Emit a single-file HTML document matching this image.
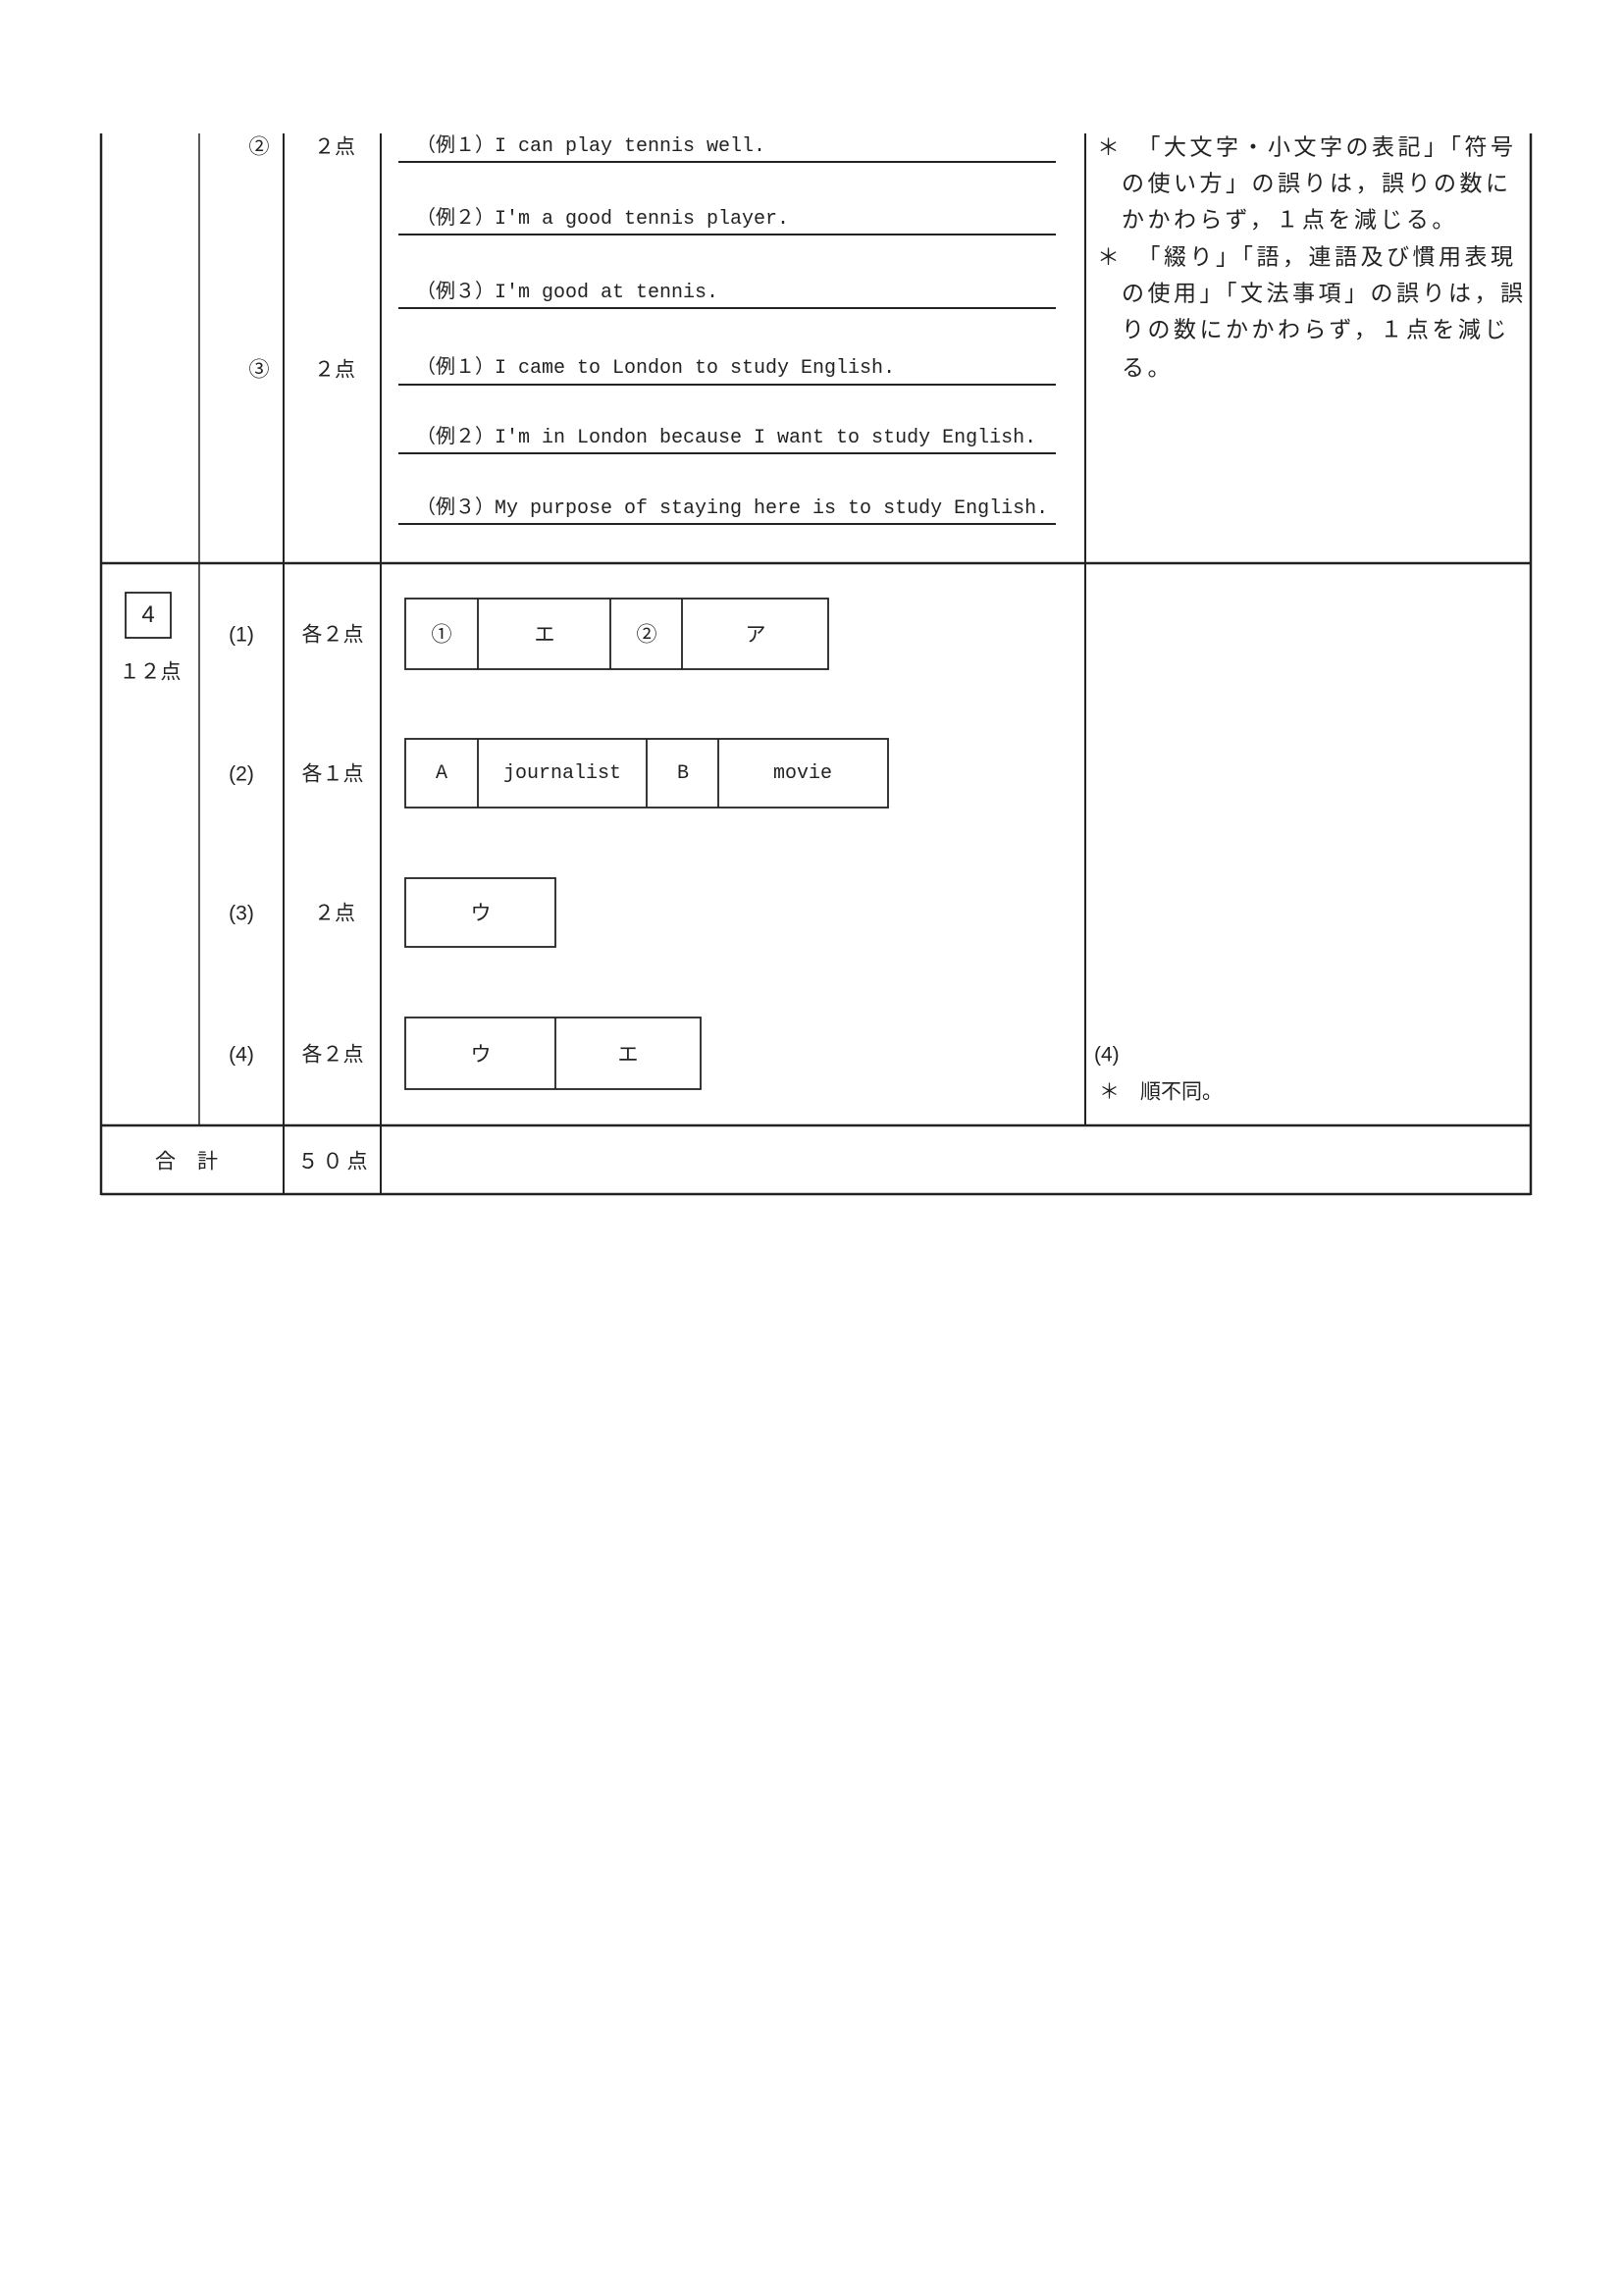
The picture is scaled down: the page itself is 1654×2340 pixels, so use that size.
<!DOCTYPE html>
<html><head><meta charset="utf-8"><style>
html,body{margin:0;padding:0;background:#fff;}
body{width:1654px;height:2340px;position:relative;overflow:hidden;}
.t{position:absolute;white-space:nowrap;color:#222;line-height:1;}
.m{font-family:"Liberation Mono","Noto Sans CJK JP",monospace;font-size:20px;}
.j{font-family:"Liberation Sans","Noto Sans CJK JP",sans-serif;font-size:21px;}
.n{font-family:"Noto Sans CJK JP",sans-serif;font-size:23px;letter-spacing:3.5px;}
.c{text-align:center;transform:translate(-50%,-50%);}
.l{transform:translateY(-50%);}
</style></head><body>
<svg width="1654" height="2340" style="position:absolute;left:0;top:0">
<g stroke="#222" fill="none">
<line x1="103" y1="136" x2="103" y2="1218" stroke-width="2.5"/>
<line x1="203" y1="136" x2="203" y2="1147" stroke-width="1.5"/>
<line x1="289" y1="136" x2="289" y2="1218" stroke-width="2"/>
<line x1="388" y1="136" x2="388" y2="1218" stroke-width="2"/>
<line x1="1106" y1="136" x2="1106" y2="1147" stroke-width="2"/>
<line x1="1560" y1="136" x2="1560" y2="1218" stroke-width="2.5"/>
<line x1="103" y1="574" x2="1560" y2="574" stroke-width="2.5"/>
<line x1="103" y1="1147" x2="1560" y2="1147" stroke-width="2.5"/>
<line x1="103" y1="1217" x2="1560" y2="1217" stroke-width="2.5"/>
<g stroke-width="2">
<line x1="406" y1="165" x2="1076" y2="165"/>
<line x1="406" y1="239" x2="1076" y2="239"/>
<line x1="406" y1="314" x2="1076" y2="314"/>
<line x1="406" y1="392" x2="1076" y2="392"/>
<line x1="406" y1="462" x2="1076" y2="462"/>
<line x1="406" y1="534" x2="1076" y2="534"/>
</g>
<g stroke-width="1.8">
<rect x="128" y="604" width="46" height="46"/>
<rect x="413" y="610" width="431" height="72"/>
<line x1="487" y1="610" x2="487" y2="682"/><line x1="622" y1="610" x2="622" y2="682"/><line x1="695" y1="610" x2="695" y2="682"/>
<rect x="413" y="753" width="492" height="70"/>
<line x1="487" y1="753" x2="487" y2="823"/><line x1="659" y1="753" x2="659" y2="823"/><line x1="732" y1="753" x2="732" y2="823"/>
<rect x="413" y="895" width="153" height="70"/>
<rect x="413" y="1037" width="301" height="73"/>
<line x1="566" y1="1037" x2="566" y2="1110"/>
</g>
</g></svg>

<div class="t j c" style="left:264px;top:150px">②</div>
<div class="t j c" style="left:341px;top:150px">２点</div>
<div class="t j c" style="left:264px;top:377px">③</div>
<div class="t j c" style="left:341px;top:377px">２点</div>

<div class="t m l" style="left:424px;top:150px">（例１）I can play tennis well.</div>
<div class="t m l" style="left:424px;top:224px">（例２）I'm a good tennis player.</div>
<div class="t m l" style="left:424px;top:299px">（例３）I'm good at tennis.</div>
<div class="t m l" style="left:424px;top:376px">（例１）I came to London to study English.</div>
<div class="t m l" style="left:424px;top:447px">（例２）I'm in London because I want to study English.</div>
<div class="t m l" style="left:424px;top:519px">（例３）My purpose of staying here is to study English.</div>

<div class="t n l" style="left:1118px;top:148px">＊　「大文字・小文字の表記」「符号</div>
<div class="t n l" style="left:1143px;top:185px">の使い方」の誤りは，誤りの数に</div>
<div class="t n l" style="left:1143px;top:222px">かかわらず，１点を減じる。</div>
<div class="t n l" style="left:1118px;top:260px">＊　「綴り」「語，連語及び慣用表現</div>
<div class="t n l" style="left:1143px;top:297px">の使用」「文法事項」の誤りは，誤</div>
<div class="t n l" style="left:1143px;top:334px">りの数にかかわらず，１点を減じ</div>
<div class="t n l" style="left:1143px;top:373px">る。</div>

<div class="t j c" style="left:151px;top:627px;font-size:24px">4</div>
<div class="t j c" style="left:153px;top:685px">１２点</div>
<div class="t j c" style="left:246px;top:647px">(1)</div>
<div class="t j c" style="left:246px;top:789px">(2)</div>
<div class="t j c" style="left:246px;top:931px">(3)</div>
<div class="t j c" style="left:246px;top:1075px">(4)</div>
<div class="t j c" style="left:339px;top:647px">各２点</div>
<div class="t j c" style="left:339px;top:789px">各１点</div>
<div class="t j c" style="left:341px;top:931px">２点</div>
<div class="t j c" style="left:339px;top:1075px">各２点</div>

<div class="t j c" style="left:450px;top:647px">①</div>
<div class="t j c" style="left:555px;top:647px">エ</div>
<div class="t j c" style="left:659px;top:647px">②</div>
<div class="t j c" style="left:770px;top:647px">ア</div>
<div class="t m c" style="left:450px;top:789px">A</div>
<div class="t m c" style="left:573px;top:789px">journalist</div>
<div class="t m c" style="left:696px;top:789px">B</div>
<div class="t m c" style="left:818px;top:789px">movie</div>
<div class="t j c" style="left:490px;top:931px">ウ</div>
<div class="t j c" style="left:490px;top:1075px">ウ</div>
<div class="t j c" style="left:640px;top:1075px">エ</div>

<div class="t j l" style="left:1115px;top:1075px">(4)</div>
<div class="t j l" style="left:1120px;top:1113px">＊　順不同。</div>

<div class="t j c" style="left:201px;top:1184px;letter-spacing:22px">合計</div>
<div class="t j c" style="left:341px;top:1184px;letter-spacing:4px">５０点</div>
</body></html>
